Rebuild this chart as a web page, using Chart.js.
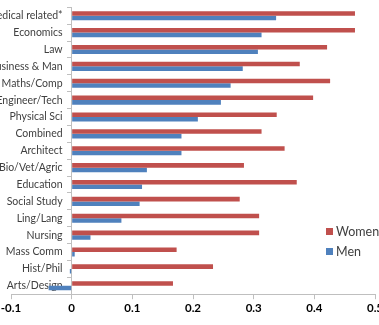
<!DOCTYPE html>
<html>
<head>
<meta charset="utf-8">
<script src="https://cdn.jsdelivr.net/npm/chart.js@4.4.1/dist/chart.umd.min.js"></script>
<style>
  html, body { margin: 0; padding: 0; background: #fff; overflow: hidden; }
  #wrap { position: absolute; left: 0; top: -2px; width: 379px; height: 327px; }
  #legend { position: absolute; left: 326px; top: 224px; font: 12.5px Lato, sans-serif; color: #404040; white-space: nowrap; }
  #legend div { height: 20px; line-height: 16px; }
  #legend span { display: inline-block; width: 7px; height: 7px; margin-right: 3px; vertical-align: 1px; }
</style>
</head>
<body>
<div id="wrap"><canvas id="chart"></canvas></div>
<div id="legend">
  <div><span style="background:#C0504D"></span>Women</div>
  <div><span style="background:#4F81BD"></span>Men</div>
</div>
<script>
const categories = ['Medical related*', 'Economics', 'Law', 'Business & Man', 'Maths/Comp', 'Engineer/Tech',
  'Physical Sci', 'Combined', 'Architect', 'Bio/Vet/Agric', 'Education', 'Social Study', 'Ling/Lang',
  'Nursing', 'Mass Comm', 'Hist/Phil', 'Arts/Design'];
const women = [0.467, 0.467, 0.421, 0.376, 0.426, 0.398, 0.338, 0.313, 0.351, 0.284, 0.371, 0.277, 0.309, 0.309, 0.173, 0.233, 0.167];
const men = [0.337, 0.313, 0.307, 0.282, 0.262, 0.246, 0.208, 0.181, 0.181, 0.124, 0.116, 0.112, 0.082, 0.031, 0.005, -0.003, -0.038];
const xTicks = [-0.1, 0, 0.1, 0.2, 0.3, 0.4, 0.5];

const axisGrey = '#BFBFBF';

new Chart(document.getElementById('chart'), {
  type: 'bar',
  data: {
    labels: categories,
    datasets: [
      { label: 'Women', data: women, backgroundColor: '#C0504D', yAxisID: 'y' },
      { label: 'Men', data: men, backgroundColor: '#4F81BD', yAxisID: 'y' }
    ]
  },
  options: {
    indexAxis: 'y',
    responsive: true,
    maintainAspectRatio: false,
    animation: false,
    categoryPercentage: 0.54,
    barPercentage: 1,
    layout: { padding: { left: 11, right: 4, top: 0, bottom: 8 } },
    plugins: { legend: { display: false }, tooltip: { enabled: false } },
    scales: {
      x: {
        min: -0.1,
        max: 0.5,
        afterBuildTicks: (scale) => { scale.ticks = xTicks.map(v => ({ value: v })); },
        afterFit: (scale) => { scale.paddingLeft = 0; scale.paddingRight = 0; },
        grid: { drawOnChartArea: false, drawTicks: true, tickLength: 5, color: axisGrey },
        border: { color: axisGrey },
        ticks: {
          padding: 2,
          color: '#000',
          font: { family: 'Lato', size: 11.5, weight: 'bold' },
          callback: (v) => String(v)
        }
      },
      // category labels, drawn a little left of the zero line
      y: {
        position: { x: -0.015 },
        grid: { display: false },
        border: { display: false },
        ticks: {
          autoSkip: false,
          color: '#404040',
          font: { family: 'Lato', size: 10.5 }
        }
      },
      // the axis line itself, crossing at zero
      y2: {
        type: 'category',
        labels: categories,
        position: { x: 0 },
        grid: { drawOnChartArea: false, drawTicks: true, tickLength: 4, offset: true, color: axisGrey },
        border: { color: axisGrey },
        ticks: { display: false }
      }
    }
  }
});
</script>
</body>
</html>
